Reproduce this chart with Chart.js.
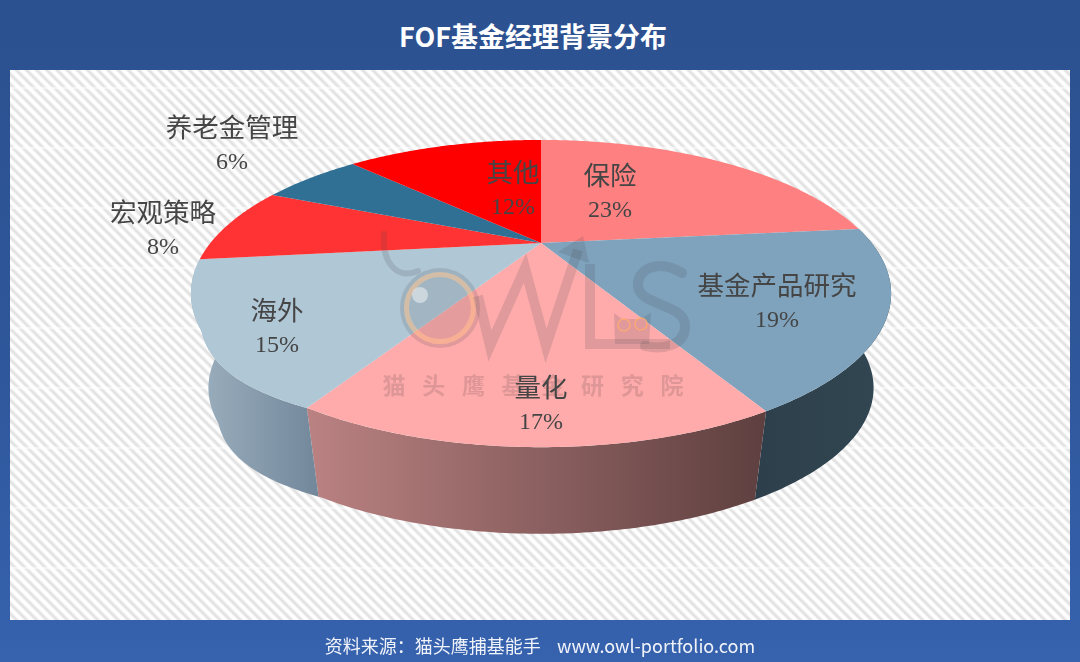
<!DOCTYPE html>
<html lang="zh">
<head>
<meta charset="utf-8">
<title>FOF基金经理背景分布</title>
<script src="https://cdn.jsdelivr.net/npm/chart.js@4"></script>
<style>
  html, body { margin: 0; padding: 0; }
  body {
    position: relative; width: 1080px; height: 662px; overflow: hidden;
    background: linear-gradient(180deg, #2c5190 0%, #2e5699 50%, #3662ae 100%);
    font-family: "Noto Sans CJK SC", sans-serif;
  }
  #title {
    position: absolute; left: 0; top: 16px; width: 1066px; text-align: center;
    color: #fff; font-size: 27px; font-weight: 700; line-height: 40px;
  }
  #panel {
    position: absolute; left: 10px; top: 70px; width: 1060px; height: 550px;
    background:
      linear-gradient(180deg, rgba(255,255,255,0) 0, rgba(255,255,255,0) 57px, rgba(255,255,255,.75) 58.5px, rgba(255,255,255,0) 60px) 0 -40.5px / 100% 60px,
      repeating-linear-gradient(45deg, #fff 0, #fff 2px, #e2e2e2 4px, #e2e2e2 5px, #fff 7.2px);
  }
  #chart { position: absolute; left: 0; top: 0; }
  #source {
    position: absolute; left: 0; top: 630px; width: 1080px; text-align: center;
    color: #f0f3fa; font-size: 18px; line-height: 30px; white-space: pre;
  }
</style>
</head>
<body>
<div id="title">FOF基金经理背景分布</div>
<div id="panel"></div>
<canvas id="chart" width="1080" height="662"></canvas>
<div id="source">资料来源：猫头鹰捕基能手    www.owl-portfolio.com</div>
<script>
const categories = ['保险', '基金产品研究', '量化', '海外', '宏观策略', '养老金管理', '其他'];
// estimated from the slice edges, the labels show them rounded
const shares = [23.3, 18.6, 16.5, 14.7, 8.3, 6.1, 12.4];
const sliceColors = ['#ff8080', '#7fa3bd', '#ffabab', '#b0c7d6', '#ff3333', '#317095', '#ff0000'];
// side wall gradient, left to right, only for the slices that show a wall
const wallColors = [null, ['#2d3f4b', '#324753'], ['#bb8282', '#5e3f3f'], ['#9db1c0', '#72879a'], null, null, null];
const labelSpots = [[610, 175], [777, 285], [541, 387], [277, 310], [163, 212], [232, 127], [513, 172]];
const watermark = ['猫', '头', '鹰', '基', '金', '研', '究', '院'];

// perspective of the pie's top face, the circle seen from above
const apexX = 541, apexY = 243, radiusX = 330.6, radiusY = 137, tilt = 0.329;
// the bottom rim shrinks towards a vanishing point below the pie
const rimScale = 0.95, vanishY = 2180;

function project(u, v) {
  const w = 1 / (1 + tilt * v);
  // the reference is a little fuller on its lower left
  const t = (Math.atan2(-u, -v) * 180 / Math.PI - 30) / 28;
  const bulge = t > 0 && t < 1 ? 1 + 0.025 * Math.sin(Math.PI * t) : 1;
  return { x: apexX + radiusX * u * w * bulge, y: apexY - radiusY * v * w * bulge };
}
function rimPoint(angle) {
  const p = project(Math.cos(angle), -Math.sin(angle));
  return { x: apexX + (p.x - apexX) * rimScale, y: vanishY + (p.y - vanishY) * rimScale };
}

// Swaps the path calls so ArcElement draws through the perspective above
const perspective = {
  id: 'perspective',
  beforeDatasetsDraw(chart) {
    const ctx = chart.ctx;
    const arcs = chart.getDatasetMeta(0).data;
    const { x: cx, y: cy, outerRadius: r } = arcs[0];
    const flat = p => project((p[0] - cx) / r, (cy - p[1]) / r);

    // side walls first, as a ribbon of quads so the silhouette is filled
    arcs.forEach((arc, i) => {
      if (!wallColors[i]) return;
      const steps = 80, a0 = arc.startAngle, a1 = arc.endAngle;
      const top = [], rim = [];
      for (let s = 0; s <= steps; s++) {
        const a = a0 + (a1 - a0) * s / steps;
        top.push(project(Math.cos(a), -Math.sin(a)));
        rim.push(rimPoint(a));
      }
      const xs = top.concat(rim).map(p => p.x);
      const g = ctx.createLinearGradient(Math.min(...xs), 0, Math.max(...xs), 0);
      g.addColorStop(0, wallColors[i][0]);
      g.addColorStop(1, wallColors[i][1]);
      ctx.fillStyle = g;
      ctx.beginPath();
      for (let s = 0; s < steps; s++) {
        ctx.moveTo(top[s].x, top[s].y);
        ctx.lineTo(top[s + 1].x, top[s + 1].y);
        ctx.lineTo(rim[s + 1].x, rim[s + 1].y);
        ctx.lineTo(rim[s].x, rim[s].y);
        ctx.closePath();
      }
      ctx.fill();
    });

    ctx.arc = function (x, y, rad, start, end, ccw) {
      const sweep = ccw ? start - end : end - start;
      const n = Math.max(2, Math.ceil(Math.abs(sweep) * 120));
      for (let s = 0; s <= n; s++) {
        const a = start + (end - start) * s / n;
        const p = flat([x + rad * Math.cos(a), y + rad * Math.sin(a)]);
        CanvasRenderingContext2D.prototype.lineTo.call(ctx, p.x, p.y);
      }
    };
    ctx.lineTo = function (x, y) {
      const p = flat([x, y]);
      CanvasRenderingContext2D.prototype.lineTo.call(ctx, p.x, p.y);
    };
    ctx.moveTo = function (x, y) {
      const p = flat([x, y]);
      CanvasRenderingContext2D.prototype.moveTo.call(ctx, p.x, p.y);
    };
  },
  afterDatasetsDraw(chart) {
    const ctx = chart.ctx;
    delete ctx.arc;
    delete ctx.lineTo;
    delete ctx.moveTo;
    drawLogo(ctx);
    drawLabels(ctx);
  }
};

function drawLogo(ctx) {
  const ink = 'rgba(70, 70, 80, 0.17)';
  ctx.save();
  ctx.lineCap = 'round';
  ctx.lineJoin = 'round';
  ctx.strokeStyle = ink;

  // horn and eye
  ctx.lineWidth = 6;
  ctx.beginPath();
  ctx.moveTo(384, 234);
  ctx.bezierCurveTo(382, 262, 396, 280, 418, 271);
  ctx.stroke();
  ctx.fillStyle = 'rgba(70, 70, 80, 0.14)';
  ctx.beginPath();
  ctx.arc(440, 308, 31, 0, Math.PI * 2);
  ctx.fill();
  ctx.lineWidth = 4;
  ctx.beginPath();
  ctx.arc(440, 308, 38, 0, Math.PI * 2);
  ctx.stroke();
  ctx.lineWidth = 5;
  ctx.strokeStyle = 'rgba(240, 180, 130, 0.55)';
  ctx.beginPath();
  ctx.arc(440, 308, 33.5, 0, Math.PI * 2);
  ctx.stroke();
  ctx.fillStyle = 'rgba(255, 255, 255, 0.45)';
  ctx.beginPath();
  ctx.arc(420, 295, 8, 0, Math.PI * 2);
  ctx.fill();

  // W with the arrow, L and S
  ctx.strokeStyle = ink;
  ctx.lineCap = 'butt';
  ctx.lineJoin = 'miter';
  ctx.lineWidth = 10;
  ctx.beginPath();
  ctx.moveTo(478, 296);
  ctx.lineTo(490, 346);
  ctx.lineTo(525, 268);
  ctx.lineTo(546, 346);
  ctx.lineTo(578, 250);
  ctx.stroke();
  ctx.beginPath();
  ctx.moveTo(590, 264);
  ctx.lineTo(590, 344);
  ctx.lineTo(670, 344);
  ctx.stroke();
  ctx.fillStyle = ink;
  ctx.beginPath();
  ctx.moveTo(583, 236);
  ctx.lineTo(558, 252);
  ctx.lineTo(589, 263);
  ctx.closePath();
  ctx.fill();
  ctx.lineCap = 'round';
  ctx.lineWidth = 10;
  ctx.beginPath();
  ctx.moveTo(682, 273);
  ctx.bezierCurveTo(662, 260, 638, 266, 638, 285);
  ctx.bezierCurveTo(638, 306, 684, 303, 685, 325);
  ctx.bezierCurveTo(686, 346, 662, 350, 645, 346);
  ctx.stroke();

  // little owl
  ctx.fillStyle = 'rgba(70, 70, 80, 0.16)';
  ctx.beginPath();
  ctx.moveTo(614, 313);
  ctx.lineTo(622, 319);
  ctx.lineTo(640, 319);
  ctx.lineTo(651, 313);
  ctx.lineTo(649, 344);
  ctx.lineTo(615, 344);
  ctx.closePath();
  ctx.fill();
  ctx.strokeStyle = 'rgba(255, 170, 110, 0.85)';
  ctx.lineWidth = 1.5;
  [[624, 325], [641, 324]].forEach(e => {
    ctx.beginPath();
    ctx.arc(e[0], e[1], 6, 0, Math.PI * 2);
    ctx.stroke();
  });

  ctx.fillStyle = 'rgba(90, 70, 70, 0.2)';
  ctx.font = '700 23px "Noto Sans CJK SC"';
  ctx.textAlign = 'center';
  ctx.textBaseline = 'middle';
  watermark.forEach((ch, i) => ctx.fillText(ch, 394 + i * 39.7, 385));
  ctx.restore();
}

function drawLabels(ctx) {
  ctx.save();
  ctx.fillStyle = '#454545';
  ctx.textAlign = 'center';
  ctx.textBaseline = 'middle';
  categories.forEach((name, i) => {
    const [x, y] = labelSpots[i];
    ctx.font = '26.5px "Noto Sans CJK SC"';
    ctx.fillText(name, x, y);
    ctx.font = '24px "Liberation Serif"';
    ctx.fillText(Math.round(shares[i]) + '%', x, y + 36);
  });
  ctx.restore();
}

new Chart(document.getElementById('chart'), {
  type: 'pie',
  data: {
    labels: categories,
    datasets: [{ data: shares, backgroundColor: sliceColors, borderWidth: 0 }]
  },
  options: {
    responsive: false,
    animation: false,
    events: [],
    plugins: { legend: { display: false }, tooltip: { enabled: false } }
  },
  plugins: [perspective]
});
</script>
</body>
</html>
